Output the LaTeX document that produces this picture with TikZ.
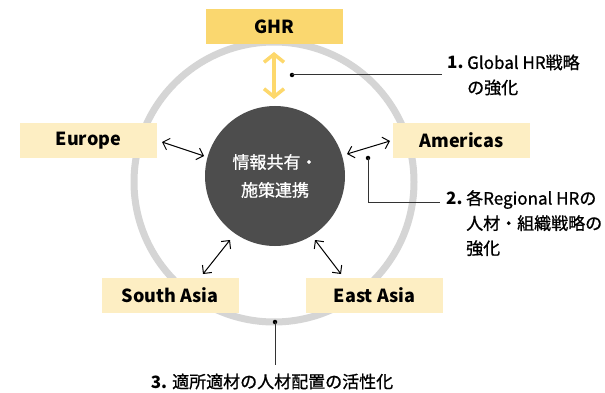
\documentclass[tikz,border=0pt]{standalone}
\usepackage{fontspec}
\setmainfont{Noto Sans CJK JP}
\newfontfamily\medfont{Noto Sans CJK JP}[FakeBold=0.9]
\usetikzlibrary{arrows.meta}
\definecolor{ringgray}{HTML}{D5D5D5}
\definecolor{hubgray}{HTML}{4D4D4D}
\definecolor{ghryellow}{HTML}{FAD76F}
\definecolor{regionyellow}{HTML}{FDEEC3}
\definecolor{arrowyellow}{HTML}{FDD86C}
\definecolor{leadgray}{HTML}{333333}
\tikzset{
  ring/.style={draw=ringgray, line width=7pt},
  hub/.style={circle, fill=hubgray, minimum size=140pt, inner sep=0pt, text=white, align=center, font=\medfont\fontsize{17}{28}\selectfont},
  regionbox/.style={fill=regionyellow, minimum width=137pt, minimum height=35pt, inner sep=0pt, font=\fontsize{18}{20}\selectfont\bfseries},
  ghrbox/.style={regionbox, fill=ghryellow},
  link/.style={draw=black, line width=1pt, {Straight Barb[length=6pt,width=12pt]}-{Straight Barb[length=6pt,width=12pt]}},
  ylink/.style={draw=arrowyellow, line width=3.5pt, {Straight Barb[length=8pt,width=20pt]}-{Straight Barb[length=8pt,width=20pt]}},
  lead/.style={draw=leadgray, line width=1pt},
  leaddot/.style={circle, fill=black, minimum size=4.5pt, inner sep=0pt},
  note/.style={align=left, inner sep=0pt, font=\medfont\fontsize{17}{25}\selectfont},
}
\begin{document}
\begin{tikzpicture}[x=1pt,y=-1pt]
\useasboundingbox (0,0) rectangle (605,393);
\fill[white] (0,0) rectangle (605,393);
% ring
\draw[ring] (274,182) circle (140);
% hub
\node[hub] (hub) at (275,176) {情報共有・\\施策連携};
% boxes
\node[ghrbox] (ghr) at (274.5,26.5) {GHR};
\node[regionbox] (eu) at (88.5,140.5) {Europe};
\node[regionbox] (am) at (461.5,140.5) {Americas};
\node[regionbox] (sa) at (170,295.5) {South Asia};
\node[regionbox] (ea) at (374.5,295.5) {East Asia};
% arrow ends
\coordinate (y1) at (274,52);
\coordinate (y2) at (274,99);
\coordinate (e1) at (162,142);
\coordinate (e2) at (204,156);
\coordinate (a1) at (347,154);
\coordinate (a2) at (390,141);
\coordinate (s1) at (203,274);
\coordinate (s2) at (230,240);
\coordinate (t1) at (315,240);
\coordinate (t2) at (341,274);
\draw[ylink] (y1) -- (y2);
\draw[link] (e1) -- (e2);
\draw[link] (a1) -- (a2);
\draw[link] (s1) -- (s2);
\draw[link] (t1) -- (t2);
% annotation 1
\node[leaddot] (d1) at (292,75) {};
\coordinate (n1) at (442,75);
\draw[lead] (d1.center) -- (n1);
\node[note, anchor=west] (note1) at (447,75) {\makebox[20pt][l]{\normalfont\fontsize{17}{25}\selectfont\bfseries 1.}Global HR戦略\\\hspace*{20pt}の強化};
% annotation 2
\node[leaddot] (d2) at (368,158) {};
\coordinate (c2) at (368,202);
\coordinate (n2) at (440,202);
\draw[lead] (d2.center) -- (c2) -- (n2);
\node[note, anchor=north west] (note2) at (446,190) {\makebox[20pt][l]{\normalfont\fontsize{17}{25}\selectfont\bfseries 2.}各Regional HRの\\\hspace*{20pt}人材・組織戦略の\\\hspace*{20pt}強化};
% annotation 3
\node[leaddot] (d3) at (275,322) {};
\coordinate (n3) at (275,365);
\draw[lead] (d3.center) -- (n3);
\node[note, anchor=base] (note3) at (272,388) {{\normalfont\fontsize{17}{25}\selectfont\bfseries 3.} 適所適材の人材配置の活性化};
\end{tikzpicture}
\end{document}
